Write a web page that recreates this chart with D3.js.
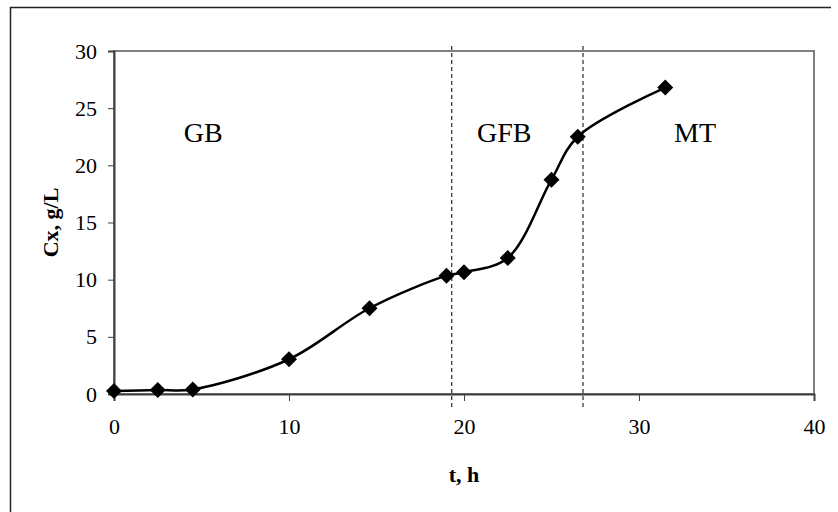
<!DOCTYPE html>
<html>
<head>
<meta charset="utf-8">
<script src="https://cdn.jsdelivr.net/npm/d3@7"></script>
<style>
  body { margin: 0; background: #fff; }
  svg text { font-family: "Liberation Serif", "Times New Roman", serif; fill: #000; }
</style>
</head>
<body>
<svg id="main_graph" width="838" height="512"></svg>
<script>

// time (h) and biomass Cx (g/L)
var times   = [0, 2.5, 4.5, 10, 14.6, 19.0, 20.0, 22.5, 25.0, 26.5, 31.5];
var cx      = [0.26, 0.35, 0.4, 3.04, 7.5, 10.35, 10.65, 11.9, 18.75, 22.5, 26.8];

var xTicks  = [0, 10, 20, 30, 40];
var yTicks  = [0, 5, 10, 15, 20, 25, 30];

// phase boundaries and phase names
var phaseLines  = [19.3, 26.8];
var phaseNames  = ["GB", "GFB", "MT"];
var phaseLabelX = [5.1, 22.3, 33.2];
var phaseLabelY = 22;

var svg = d3.select("#main_graph");

var margin = {top: 51, right: 24, bottom: 118, left: 114},
    width  = 838 - margin.left - margin.right,
    height = 512 - margin.top - margin.bottom;

// outer frame (top and left only, the rest is cropped off)
svg.append("path")
    .attr("d", "M10.5,512 L10.5,7.5 L831,7.5")
    .attr("fill", "none")
    .attr("stroke", "#222")
    .attr("stroke-width", 1.5);

var g = svg.append("g").attr("transform", "translate(" + margin.left + "," + margin.top + ")");

var x = d3.scaleLinear().domain([0, 40]).range([0, width]);
var y = d3.scaleLinear().domain([0, 30]).range([height, 0]);

// plot box
g.append("rect")
    .attr("width", width)
    .attr("height", height)
    .attr("fill", "none")
    .attr("stroke", "#808080")
    .attr("stroke-width", 2);

// dashed phase lines
g.selectAll(".phase")
    .data(phaseLines)
    .enter().append("line")
    .attr("x1", function(d) { return x(d); })
    .attr("x2", function(d) { return x(d); })
    .attr("y1", -5)
    .attr("y2", height + 16)
    .attr("stroke", "#000")
    .attr("stroke-width", 1)
    .attr("stroke-dasharray", "4,3");

var xAxis = g.append("g")
    .attr("transform", "translate(0," + height + ")")
    .call(d3.axisBottom(x).tickValues(xTicks).tickSize(7).tickPadding(17));

var yAxis = g.append("g")
    .call(d3.axisLeft(y).tickValues(yTicks).tickSize(6).tickPadding(11));

[xAxis, yAxis].forEach(function(a) {
  a.select(".domain").attr("stroke", "#404040").attr("stroke-width", 2);
  a.selectAll(".tick line").attr("stroke", "#404040").attr("stroke-width", 1);
  a.selectAll(".tick text")
      .style("font-family", "'Liberation Serif', 'Times New Roman', serif")
      .style("font-size", "22px")
      .attr("fill", "#000");
});

// axis titles
g.append("text")
    .attr("x", width / 2)
    .attr("y", height + 88)
    .attr("text-anchor", "middle")
    .style("font-size", "22px")
    .style("font-weight", "bold")
    .text("t, h");

g.append("text")
    .attr("transform", "translate(" + (-56) + "," + (height / 2) + ") rotate(-90)")
    .attr("text-anchor", "middle")
    .style("font-size", "22px")
    .style("font-weight", "bold")
    .text("Cx, g/L");

// phase names
g.selectAll(".phaseName")
    .data(phaseNames)
    .enter().append("text")
    .attr("x", function(d, i) { return x(phaseLabelX[i]); })
    .attr("y", y(phaseLabelY))
    .attr("text-anchor", "middle")
    .style("font-size", "28px")
    .text(function(d) { return d; });

var data = times.map(function(t, i) { return {t: t, c: cx[i]}; });

var line = d3.line()
    .curve(d3.curveCatmullRom.alpha(0.5))
    .x(function(d) { return x(d.t); })
    .y(function(d) { return y(d.c); });

g.append("path")
    .datum(data)
    .attr("fill", "none")
    .attr("stroke", "#000")
    .attr("stroke-width", 2.5)
    .attr("d", line);

g.selectAll(".pt")
    .data(data)
    .enter().append("path")
    .attr("d", "M0,-8 L8,0 L0,8 L-8,0 Z")
    .attr("transform", function(d) { return "translate(" + x(d.t) + "," + y(d.c) + ")"; })
    .attr("fill", "#000");

</script>
</body>
</html>
